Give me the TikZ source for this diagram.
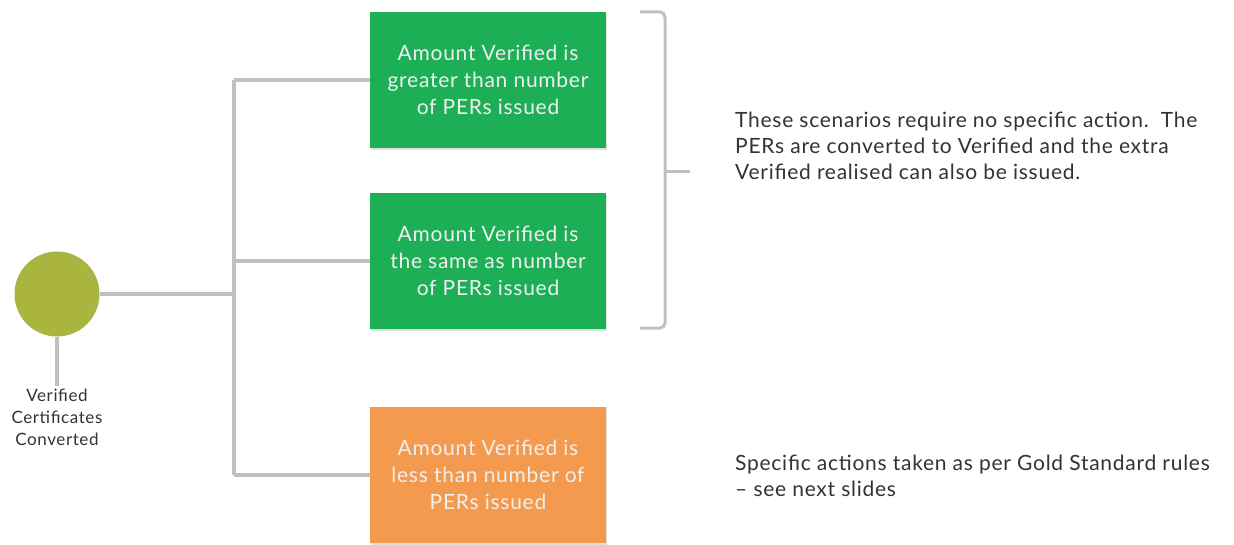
\documentclass[tikz,border=0pt]{standalone}
\usepackage{fontspec}
\setmainfont{Lato}[LetterSpace=3.5]
\usepackage{tikz}
\usetikzlibrary{shapes,shadows}
\usetikzlibrary{arrows,arrows.meta}

\definecolor{hubolive}{HTML}{AAB53F}
\definecolor{okgreen}{HTML}{1CAF55}
\definecolor{warnorange}{HTML}{F39A4F}
\definecolor{linkgray}{HTML}{C0C0C0}
\definecolor{textgray}{HTML}{333333}

\tikzset{
  hub/.style={circle,fill=hubolive,minimum size=85pt,inner sep=0pt},
  caption/.style={align=center,text=textgray,inner sep=2pt,
    font=\fontsize{17}{22}\selectfont},
  scenario/.style={minimum width=236pt,minimum height=136pt,inner sep=0pt,
    align=center,text=white!94!black,font=\fontsize{21}{27}\selectfont,
    drop shadow={opacity=0.25,shadow xshift=1pt,shadow yshift=-2pt}},
  okbox/.style={scenario,fill=okgreen},
  warnbox/.style={scenario,fill=warnorange},
  link/.style={draw=linkgray,line width=4.5pt},
  brace/.style={draw=linkgray,line width=3pt,rounded corners=5pt},
  note/.style={anchor=west,align=left,text=textgray,inner sep=0pt,
    font=\fontsize{21}{26}\selectfont}
}

\begin{document}
\begin{tikzpicture}[x=1pt,y=-1pt]
  \useasboundingbox (0,0) rectangle (1234,545);

% start of the tree
  \node[hub] (hub) at (57,294) {};
  \node[caption] (cap) at (57,417) {Verified\\Certificates\\Converted};

% the three outcomes
  \node[okbox] (more) at (488,80) {Amount Verified is\\greater than number\\of PERs issued};
  \node[okbox] (same) at (488,261) {Amount Verified is\\the same as number\\of PERs issued};
  \node[warnbox] (less) at (488,475) {Amount Verified is\\less than number of\\PERs issued};

% connectors
  \coordinate (trunktop) at (234,80);
  \coordinate (trunkbot) at (234,475);
  \draw[link] (hub.south) -- (cap.north);
  \draw[link] (trunktop) -- (trunkbot);
  \draw[link] (hub.east) -- (hub.east -| trunktop);
  \draw[link] (trunktop) -- (more.west);
  \draw[link] (same.west -| trunktop) -- (same.west);
  \draw[link] (trunkbot) -- (less.west);

% bracket round the green boxes
  \coordinate (bracetop) at (640,12);
  \coordinate (bracebot) at (640,328);
  \coordinate (tick) at (665,172);
  \draw[brace] (bracetop) -- ++(25,0) |- (bracebot);
  \draw[link,line width=3pt] (tick) -- ++(25,0);

% notes at right
  \node[note] (oknote) at (735,146) {These scenarios require no specific action.\ \ The\\PERs are converted to Verified and the extra\\Verified realised can also be issued.};
  \node[note] (warnnote) at (735,476) {Specific actions taken as per Gold Standard rules\\-- see next slides};

\end{tikzpicture}
\end{document}
